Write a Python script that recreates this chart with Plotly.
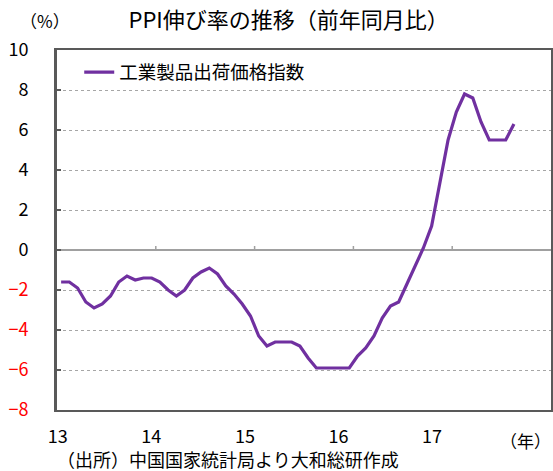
"""
PPI yoy line chart (China) - plotly
"""
import plotly.graph_objects as go

# monthly data, Jan 2013 - Aug 2017
months = [f"{y}-{m:02d}" for y in range(2013, 2018) for m in range(1, 13)][:56]
ppi_yoy = [
    -1.6, -1.6, -1.9, -2.6, -2.9, -2.7, -2.3, -1.6, -1.3, -1.5, -1.4, -1.4,
    -1.6, -2.0, -2.3, -2.0, -1.4, -1.1, -0.9, -1.2, -1.8, -2.2, -2.7, -3.3,
    -4.3, -4.8, -4.6, -4.6, -4.6, -4.8, -5.4, -5.9, -5.9, -5.9, -5.9, -5.9,
    -5.3, -4.9, -4.3, -3.4, -2.8, -2.6, -1.7, -0.8, 0.1, 1.2, 3.3, 5.5,
    6.9, 7.8, 7.6, 6.4, 5.5, 5.5, 5.5, 6.3,
]
year_labels = ["13", "14", "15", "16", "17"]
y_ticks = [10, 8, 6, 4, 2, 0, -2, -4, -6, -8]

FONT = "Noto Sans CJK JP"
PURPLE = "#7030A0"
AXIS = "#595959"

W, H = 553, 471
L, R, T, B = 57, 2, 50, 61
PW, PH = W - L - R, H - T - B

def px_x(px):
    return (px - L) / PW

def px_y(py):
    return (H - B - py) / PH

n_cat = 60  # axis spans 5 full years
x = list(range(len(months)))

ytext = []
for v in y_ticks:
    if v < 0:
        ytext.append(f'<span style="color:#FF0000">−{abs(v)}</span>')
    else:
        ytext.append(str(v))

# year labels sit a bit left of the year boundaries in the original
year_pos = [-0.4 + i * 11.36 for i in range(len(year_labels))]

fig = go.Figure()
fig.add_trace(go.Scatter(
    x=x, y=ppi_yoy, mode="lines", name="工業製品出荷価格指数",
    line=dict(color=PURPLE, width=3.2),
))

# small ticks on zero line at year boundaries
shapes = []
for i in range(1, 5):
    shapes.append(dict(type="line", xref="x", yref="y",
                       x0=i * 12 - 0.5, x1=i * 12 - 0.5, y0=0, y1=0.2,
                       line=dict(color="#A0A0A0", width=1.5)))

fig.update_layout(
    width=W, height=H,
    margin=dict(l=L, r=R, t=T, b=B, autoexpand=False),
    paper_bgcolor="white", plot_bgcolor="white",
    font=dict(family=FONT, size=18, color="black"),
    title=dict(text="PPI伸び率の推移（前年同月比）", xref="container", yref="container",
               x=0.522, xanchor="center", y=1 - 20 / H, yanchor="middle",
               font=dict(family=FONT, size=22, color="black"), automargin=False),
    showlegend=True,
    legend=dict(x=0.045, y=0.99, xanchor="left", yanchor="top",
                bgcolor="rgba(0,0,0,0)", font=dict(family=FONT, size=18.5),
                itemwidth=30, tracegroupgap=0),
    xaxis=dict(
        range=[-0.5, n_cat - 0.5],
        tickvals=year_pos, ticktext=year_labels,
        ticks="", showgrid=False, zeroline=False,
        showline=True, linecolor=AXIS, linewidth=2, mirror=True,
        ticklabelstandoff=9, automargin=False,
        tickfont=dict(family=FONT, size=18),
    ),
    yaxis=dict(
        range=[-8, 10],
        tickvals=y_ticks, ticktext=ytext,
        ticks="inside", ticklen=4, tickcolor=AXIS, tickwidth=2,
        showgrid=True, gridcolor="#A6A6A6", griddash="dot", gridwidth=1,
        zeroline=True, zerolinecolor="#A0A0A0", zerolinewidth=2,
        showline=True, linecolor=AXIS, linewidth=3, mirror=True,
        ticklabelstandoff=22, automargin=False,
        tickfont=dict(family=FONT, size=18),
    ),
    shapes=shapes,
    annotations=[
        dict(text="（%）", xref="paper", yref="paper", x=px_x(45), y=px_y(20),
             xanchor="center", yanchor="middle", showarrow=False,
             font=dict(family=FONT, size=17)),
        dict(text="（年）", xref="paper", yref="paper", x=px_x(553), y=px_y(440),
             xanchor="right", yanchor="middle", showarrow=False,
             font=dict(family=FONT, size=17)),
        dict(text="（出所）中国国家統計局より大和総研作成", xref="paper", yref="paper",
             x=px_x(55), y=px_y(459), xanchor="left", yanchor="middle", showarrow=False,
             font=dict(family=FONT, size=18)),
    ],
)

# page body has a default 8px margin - drop it so the chart fills the window
fig.write_html("out.html", config={"displayModeBar": False},
               post_script="document.body.style.margin='0';")
